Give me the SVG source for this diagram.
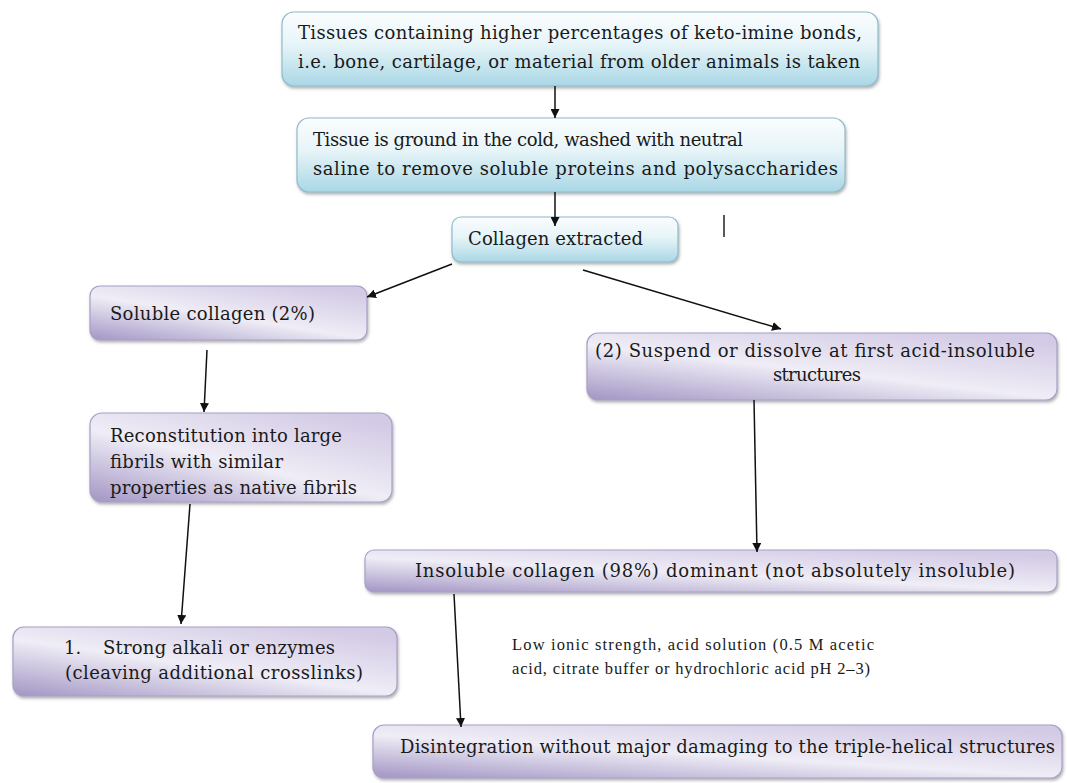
<svg xmlns="http://www.w3.org/2000/svg" width="1067" height="783" viewBox="0 0 1067 783">
  <defs>
    <linearGradient id="blueGrad" x1="0" y1="0" x2="0" y2="1">
      <stop offset="0" stop-color="#fbfdfe"/>
      <stop offset="0.45" stop-color="#e6f4f8"/>
      <stop offset="1" stop-color="#a9d7e5"/>
    </linearGradient>
    <linearGradient id="purpleGrad" x1="0" y1="1" x2="0.8" y2="0">
      <stop offset="0" stop-color="#a295c4"/>
      <stop offset="0.5" stop-color="#efedf6"/>
      <stop offset="1" stop-color="#d3cae5"/>
    </linearGradient>
    <filter id="shadow" x="-5%" y="-10%" width="110%" height="130%">
      <feDropShadow dx="1" dy="2" stdDeviation="1.5" flood-color="#555" flood-opacity="0.45"/>
    </filter>
    <marker id="arrow" viewBox="0 0 10 10" refX="10" refY="5" markerWidth="9" markerHeight="9" markerUnits="userSpaceOnUse" orient="auto">
      <path d="M0,0 L10,5 L0,10 z" fill="#111"/>
    </marker>
    <style>
      .blue { fill: url(#blueGrad); stroke: #8fbccb; stroke-width: 1.2; filter: url(#shadow); }
      .purple { fill: url(#purpleGrad); stroke: #a99fc6; stroke-width: 1.2; filter: url(#shadow); }
      .t { font-family: "DejaVu Serif", "Liberation Serif", serif; font-size: 18px; fill: #1a1a1a; }
      .lbl { font-family: "Liberation Serif", "Times New Roman", serif; font-size: 16.5px; fill: #1a1a1a; }
      .c { stroke: #111; stroke-width: 1.5; fill: none; marker-end: url(#arrow); }
    </style>
  </defs>

  <line id="stray-bar" x1="724" y1="215" x2="724" y2="237" stroke="#222" stroke-width="1.5"/>

  <g id="n1">
    <rect class="blue" x="282" y="12" width="596" height="74" rx="12"/>
    <text class="t" x="298" y="39" textLength="564" lengthAdjust="spacing">Tissues containing higher percentages of keto-imine bonds,</text>
    <text class="t" x="298" y="68" textLength="562" lengthAdjust="spacing">i.e. bone, cartilage, or material from older animals is taken</text>
  </g>

  <g id="n2">
    <rect class="blue" x="297" y="118" width="548" height="74" rx="12"/>
    <text class="t" x="313" y="146" textLength="430" lengthAdjust="spacing">Tissue is ground in the cold, washed with neutral</text>
    <text class="t" x="313" y="175" textLength="525" lengthAdjust="spacing">saline to remove soluble proteins and polysaccharides</text>
  </g>

  <g id="n3">
    <rect class="blue" x="452" y="217" width="226" height="45" rx="9"/>
    <text class="t" x="468" y="245" textLength="175" lengthAdjust="spacing">Collagen extracted</text>
  </g>

  <g id="n4">
    <rect class="purple" x="90" y="286" width="277" height="54" rx="10"/>
    <text class="t" x="110" y="320" textLength="205" lengthAdjust="spacing">Soluble collagen (2%)</text>
  </g>

  <g id="n5">
    <rect class="purple" x="587" y="333" width="470" height="67" rx="11"/>
    <text class="t" x="595" y="357" textLength="440" lengthAdjust="spacing">(2) Suspend or dissolve at first acid-insoluble</text>
    <text class="t" x="773" y="381" textLength="88" lengthAdjust="spacing">structures</text>
  </g>

  <g id="n6">
    <rect class="purple" x="90" y="413" width="302" height="89" rx="12"/>
    <text class="t" x="110" y="442" textLength="232" lengthAdjust="spacing">Reconstitution into large</text>
    <text class="t" x="110" y="468" textLength="173" lengthAdjust="spacing">fibrils with similar</text>
    <text class="t" x="110" y="494" textLength="247" lengthAdjust="spacing">properties as native fibrils</text>
  </g>

  <g id="n7">
    <rect class="purple" x="13" y="627" width="384" height="69" rx="11"/>
    <text class="t" x="64" y="654">1.</text>
    <text class="t" x="103" y="654" textLength="232" lengthAdjust="spacing">Strong alkali or enzymes</text>
    <text class="t" x="65" y="679" textLength="298" lengthAdjust="spacing">(cleaving additional crosslinks)</text>
  </g>

  <g id="n8">
    <rect class="purple" x="365" y="550" width="692" height="42" rx="9"/>
    <text class="t" x="415" y="577" textLength="600" lengthAdjust="spacing">Insoluble collagen (98%) dominant (not absolutely insoluble)</text>
  </g>

  <g id="label">
    <text class="lbl" x="512" y="650" textLength="362" lengthAdjust="spacing">Low ionic strength, acid solution (0.5 M acetic</text>
    <text class="lbl" x="512" y="674" textLength="358" lengthAdjust="spacing">acid, citrate buffer or hydrochloric acid pH 2–3)</text>
  </g>

  <g id="n9">
    <rect class="purple" x="373" y="725" width="689" height="53" rx="11"/>
    <text class="t" x="400" y="753" textLength="655" lengthAdjust="spacing">Disintegration without major damaging to the triple-helical structures</text>
  </g>

  <g id="connectors">
    <line class="c" x1="555" y1="86" x2="555" y2="118"/>
    <line class="c" x1="555" y1="192" x2="555" y2="226"/>
    <line class="c" x1="452" y1="264" x2="367" y2="297"/>
    <line class="c" x1="583" y1="270" x2="781" y2="329"/>
    <line class="c" x1="207" y1="350" x2="204" y2="412"/>
    <line class="c" x1="190" y1="504" x2="181" y2="624"/>
    <line class="c" x1="754" y1="400" x2="757" y2="552"/>
    <line class="c" x1="454" y1="594" x2="461" y2="727"/>
  </g>
</svg>
